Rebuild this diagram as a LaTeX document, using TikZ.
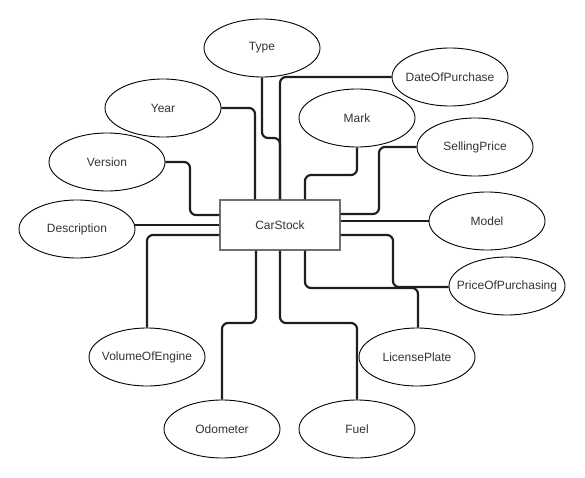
\documentclass[tikz,border=0pt]{standalone}
\usepackage{fontspec}
\setmainfont{Liberation Sans}
\usetikzlibrary{shapes.geometric}
\definecolor{txt}{HTML}{333333}
\definecolor{wire}{HTML}{1E1E1E}
\definecolor{boxline}{HTML}{707070}
\begin{document}
\begin{tikzpicture}[x=1pt,y=-1pt,
  attr/.style={ellipse,draw=black,line width=0.9pt,fill=white,
    minimum width=116pt,minimum height=58pt,inner sep=0pt,
    text=txt,font=\fontsize{12}{14}\selectfont},
  entity/.style={rectangle,draw=boxline,line width=1.4pt,fill=white,
    minimum width=120pt,minimum height=50pt,inner sep=0pt,
    text=txt,font=\fontsize{12}{14}\selectfont},
  link/.style={draw=wire,line width=2.2pt,rounded corners=6pt}]
\useasboundingbox (0,0) rectangle (585,478);

% central entity
\node[entity] (car) at (280,225) {CarStock};

% attributes
\node[attr] (type)  at (262,48)  {\makebox[0pt]{Type}};
\node[attr] (date)  at (450,77)  {\makebox[0pt]{DateOfPurchase}};
\node[attr] (year)  at (163,108) {\makebox[0pt]{Year}};
\node[attr] (mark)  at (357,118) {\makebox[0pt]{Mark}};
\node[attr] (sell)  at (475,147) {\makebox[0pt]{SellingPrice}};
\node[attr] (vers)  at (107,162) {\makebox[0pt]{Version}};
\node[attr] (model) at (487,221) {\makebox[0pt]{Model}};
\node[attr] (desc)  at (77,229)  {\makebox[0pt]{Description}};
\node[attr] (pop)   at (507,286) {\makebox[0pt]{PriceOfPurchasing}};
\node[attr] (vol)   at (147,357) {\makebox[0pt]{VolumeOfEngine}};
\node[attr] (lic)   at (417,357) {\makebox[0pt]{LicensePlate}};
\node[attr] (odo)   at (222,429) {\makebox[0pt]{Odometer}};
\node[attr] (fuel)  at (357,429) {\makebox[0pt]{Fuel}};

% connectors (y grows downwards, so a positive yshift moves up)
\path[link] (type.south) -- (262,138) -| (car.north);
\path[link] (date.west) -| (car.north);
\path[link] (year.east) -| ([xshift=-25pt]car.north);
\path[link] (vers.east) -| (190,215) -- ([yshift=10pt]car.west);
\path[link] (car.west) -- (car.west -| desc.east);
\path[link] ([yshift=-10pt]car.west) -| (vol.north);
\path[link] (mark.south) |- (305,175) -- ([xshift=25pt]car.north);
\path[link] (sell.west) -| (379,214) -- ([yshift=11pt]car.east);
\path[link] ([yshift=4pt]car.east) -- (model.west);
\path[link] ([yshift=-10pt]car.east) -| (393,287) -- (pop.west |- 0,287);
\path[link] ([xshift=25pt]car.south) |- (418,288) -- (lic.north -| 418,0);
\path[link] ([xshift=-24pt]car.south) |- (222,323) -- (odo.north);
\path[link] (car.south) |- (357,323) -- (fuel.north);
\end{tikzpicture}
\end{document}
